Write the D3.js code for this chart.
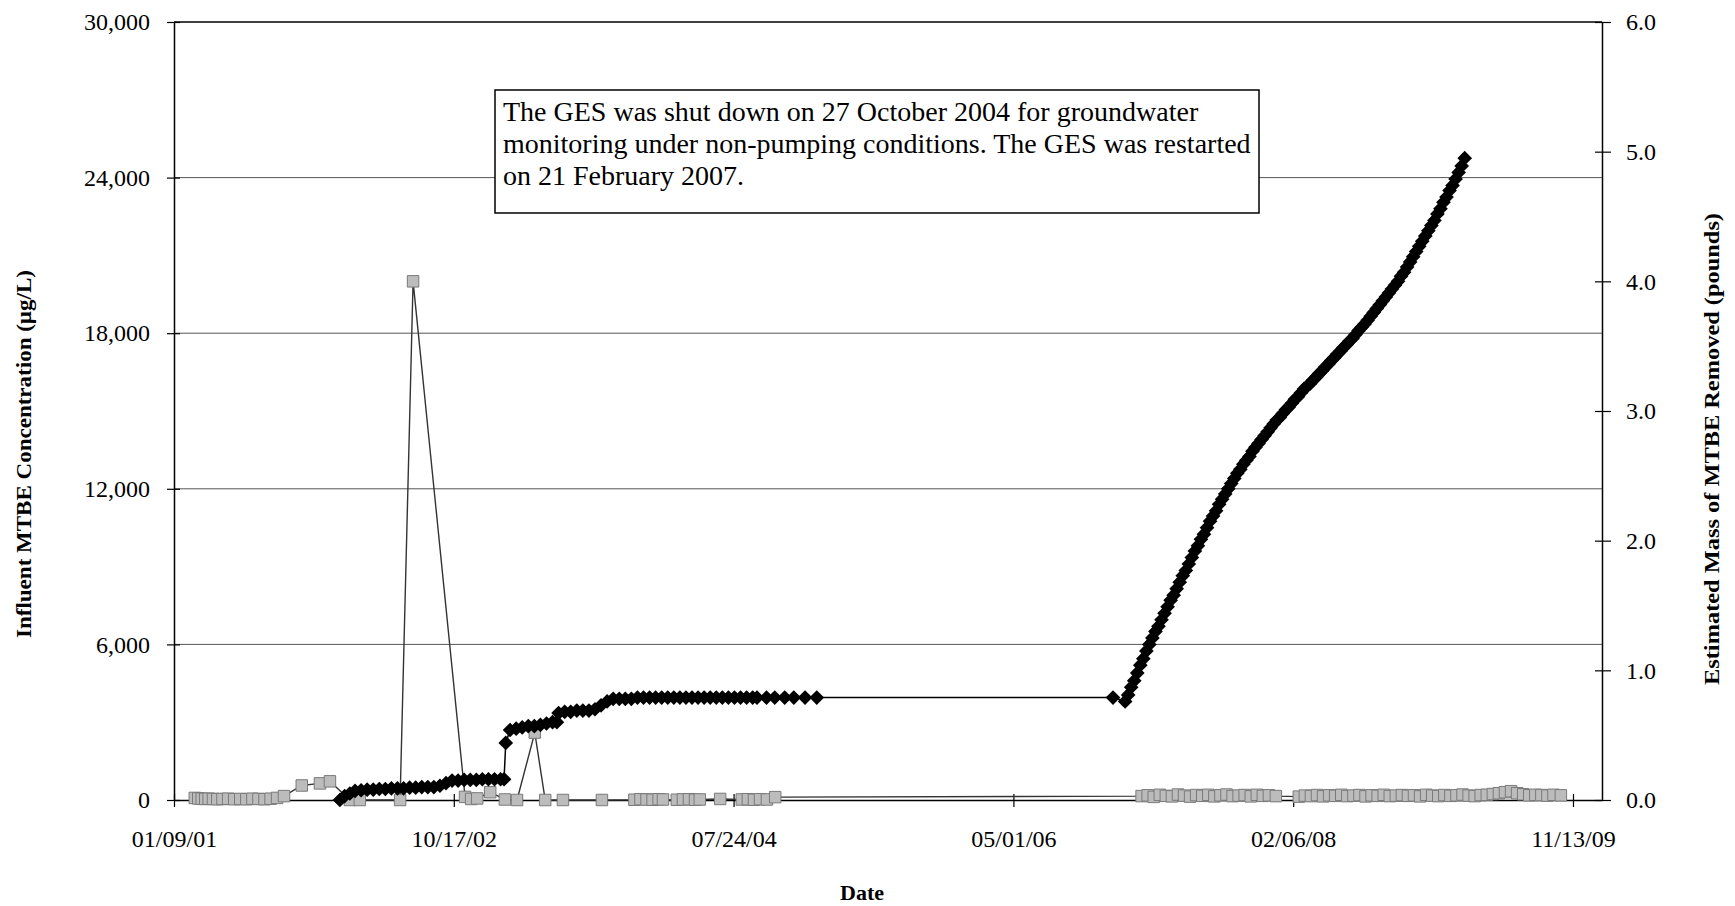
<!DOCTYPE html>
<html><head><meta charset="utf-8">
<script src="https://cdn.jsdelivr.net/npm/d3@7"></script>
<style>html,body{margin:0;padding:0;background:#fff;}svg{display:block;}</style>
</head><body>
<svg id="chart" width="1735" height="906"></svg>
<script>
// ---------------- DATA ----------------
const xTickDates = ["2001-01-09","2002-10-17","2004-07-24","2006-05-01","2008-02-06","2009-11-13"];
const leftTicks = [0, 6000, 12000, 18000, 24000, 30000];
const rightTicks = [0, 1, 2, 3, 4, 5, 6];

// Influent MTBE concentration (ug/L) - gray squares, left axis
const concDates = [
"2001-02-26","2001-03-06","2001-03-14","2001-03-22","2001-03-30","2001-04-09","2001-04-19","2001-05-01","2001-05-14","2001-05-28",
"2001-06-11","2001-06-25","2001-07-09","2001-07-23","2001-08-06","2001-08-20","2001-09-04","2001-09-20",
"2001-10-31","2001-12-12","2002-01-04",
"2002-02-19","2002-03-14","2002-06-15","2002-07-15",
"2002-11-12","2002-11-26","2002-12-10","2003-01-09","2003-02-12","2003-03-12","2003-04-22","2003-05-16","2003-06-26","2003-09-24",
"2003-12-08","2003-12-22","2004-01-05","2004-01-19","2004-02-02","2004-02-12",
"2004-03-15","2004-03-29","2004-04-12","2004-04-26","2004-05-07",
"2004-06-23",
"2004-08-12","2004-08-26","2004-09-09","2004-09-23","2004-10-09","2004-10-28",
"2007-02-21","2007-03-07","2007-03-21","2007-04-04","2007-04-18","2007-05-02","2007-05-16","2007-05-30","2007-06-13","2007-06-27",
"2007-07-11","2007-07-25","2007-08-08","2007-08-22","2007-09-05","2007-09-19","2007-10-03","2007-10-17","2007-10-31","2007-11-14",
"2007-11-28","2007-12-12","2007-12-28",
"2008-02-19","2008-03-04","2008-03-18","2008-04-01","2008-04-15","2008-04-29","2008-05-13","2008-05-27","2008-06-10","2008-06-24",
"2008-07-08","2008-07-22","2008-08-05","2008-08-19","2008-09-02","2008-09-16","2008-09-30","2008-10-14","2008-10-28","2008-11-11",
"2008-11-25","2008-12-09","2008-12-23","2009-01-06","2009-01-20","2009-02-03","2009-02-17","2009-03-03","2009-03-17","2009-03-31",
"2009-04-14","2009-04-28","2009-05-12","2009-05-26","2009-06-09","2009-06-23","2009-07-07","2009-07-21","2009-08-04","2009-08-18",
"2009-09-01","2009-09-15","2009-09-29","2009-10-16"
];
const concValues = [
80,60,50,40,50,40,30,40,50,30,
40,30,50,40,30,50,80,150,
560,640,720,
0,0,0,20000,
120,40,60,300,20,0,2600,0,0,0,
10,30,20,10,30,20,
10,20,30,10,20,
40,
20,30,10,30,20,110,
150,180,120,200,160,140,210,170,130,190,
160,200,140,180,210,150,170,190,140,200,
160,180,150,
130,170,150,190,140,180,160,200,150,170,
190,140,180,160,200,150,170,190,160,180,
140,200,170,150,190,160,180,210,170,150,
190,200,230,260,300,340,260,220,180,200,
190,170,200,180
];

// Estimated cumulative mass of MTBE removed (pounds) - black diamonds, right axis
const massDates = [
"2002-01-27","2002-02-07","2002-02-19","2002-03-03","2002-03-17","2002-03-31","2002-04-14","2002-04-28","2002-05-12","2002-05-26",
"2002-06-09","2002-06-23","2002-07-07","2002-07-21","2002-08-04","2002-08-18","2002-09-01","2002-09-15","2002-09-29","2002-10-13",
"2002-10-27","2002-11-10","2002-11-24","2002-12-08","2002-12-22","2003-01-05","2003-01-19","2003-02-02","2003-02-10","2003-02-14",
"2003-02-24","2003-03-10","2003-03-24","2003-04-07","2003-04-21","2003-05-05","2003-05-19","2003-06-02","2003-06-12","2003-06-16",
"2003-06-30","2003-07-14","2003-07-28","2003-08-11","2003-08-25","2003-09-08","2003-09-22","2003-10-06","2003-10-20","2003-11-03",
"2003-11-17","2003-12-01","2003-12-15","2003-12-29","2004-01-12","2004-01-26","2004-02-09","2004-02-23","2004-03-08","2004-03-22",
"2004-04-05","2004-04-19","2004-05-03","2004-05-17","2004-05-31","2004-06-14","2004-06-28","2004-07-12","2004-07-26","2004-08-09",
"2004-08-23","2004-09-06","2004-09-16","2004-10-08","2004-10-27","2004-11-19","2004-12-10","2005-01-05","2005-02-01",
"2006-12-17",
"2007-01-14","2007-01-21","2007-01-28","2007-02-04","2007-02-11","2007-02-18","2007-02-25","2007-03-04","2007-03-11","2007-03-18",
"2007-03-25","2007-04-01","2007-04-08","2007-04-15","2007-04-22","2007-04-29","2007-05-06","2007-05-13","2007-05-20","2007-05-27",
"2007-06-03","2007-06-10","2007-06-17","2007-06-24","2007-07-01","2007-07-08","2007-07-15","2007-07-22","2007-07-29","2007-08-05",
"2007-08-12","2007-08-19","2007-08-26","2007-09-02","2007-09-09","2007-09-16","2007-09-23","2007-09-30","2007-10-07","2007-10-14",
"2007-10-21","2007-10-28","2007-11-04","2007-11-11","2007-11-18","2007-11-25","2007-12-02","2007-12-09","2007-12-16","2007-12-23",
"2007-12-30","2008-01-06","2008-01-13","2008-01-20","2008-01-27","2008-02-03","2008-02-10","2008-02-17","2008-02-24","2008-03-02",
"2008-03-09","2008-03-16","2008-03-23","2008-03-30","2008-04-06","2008-04-13","2008-04-20","2008-04-27","2008-05-04","2008-05-11",
"2008-05-18","2008-05-25","2008-06-01","2008-06-08","2008-06-15","2008-06-22","2008-06-29","2008-07-06","2008-07-13","2008-07-20",
"2008-07-27","2008-08-03","2008-08-10","2008-08-17","2008-08-24","2008-08-31","2008-09-07","2008-09-14","2008-09-21","2008-09-28",
"2008-10-05","2008-10-12","2008-10-19","2008-10-26","2008-11-02","2008-11-09","2008-11-16","2008-11-23","2008-11-30","2008-12-07",
"2008-12-14","2008-12-21","2008-12-28","2009-01-04","2009-01-11","2009-01-18","2009-01-25","2009-02-01","2009-02-08","2009-02-15",
"2009-02-22","2009-03-01","2009-03-08"
];
const massValues = [
0.00,0.03,0.05,0.07,0.075,0.08,0.08,0.085,0.085,0.09,
0.09,0.09,0.095,0.095,0.10,0.10,0.10,0.11,0.13,0.15,
0.15,0.155,0.155,0.155,0.16,0.16,0.16,0.16,0.16,0.44,
0.54,0.55,0.56,0.57,0.57,0.58,0.59,0.60,0.60,0.67,
0.68,0.68,0.69,0.69,0.69,0.70,0.73,0.76,0.78,0.78,
0.78,0.78,0.79,0.79,0.79,0.79,0.79,0.79,0.79,0.79,
0.79,0.79,0.79,0.79,0.79,0.79,0.79,0.79,0.79,0.79,
0.79,0.79,0.79,0.79,0.79,0.79,0.79,0.79,0.79,
0.79,
0.76,0.81,0.87,0.92,0.98,1.04,1.09,1.15,1.20,1.25,
1.30,1.34,1.39,1.44,1.49,1.54,1.58,1.63,1.68,1.73,
1.77,1.82,
1.87,1.92,1.96,2.01,2.05,2.10,2.15,2.19,2.23,2.28,
2.32,2.36,2.40,2.44,2.48,2.52,2.55,2.59,2.62,2.65,
2.69,2.72,2.75,2.78,2.81,2.84,2.87,2.90,2.93,2.95,
2.98,3.01,3.03,3.06,3.09,3.11,3.14,3.17,3.19,3.21,
3.24,3.26,3.29,3.31,3.34,3.36,3.39,3.41,3.44,3.46,
3.49,3.51,3.54,3.56,3.59,3.62,3.645,3.67,3.70,3.73,
3.76,3.79,3.82,3.85,3.88,3.91,3.94,3.97,4.00,4.04,
4.07,4.11,4.15,4.19,4.23,4.27,4.31,4.35,4.39,4.43,
4.47,4.52,4.56,4.61,4.65,4.70,4.74,4.79,4.84,4.89,
4.95
];

const noteLines = [
"The GES was shut down on 27 October 2004 for groundwater",
"monitoring under non-pumping conditions. The GES was restarted",
"on 21 February 2007."
];

// ---------------- CHART ----------------
const parse = d3.utcParse("%Y-%m-%d");
const fmtDate = d3.utcFormat("%m/%d/%y");
const svg = d3.select("#chart");
const FONT = "'Liberation Serif','Times New Roman',serif";

const L = 174, R = 1602, T = 22, B = 800;
const x = d3.scaleUtc().domain([parse("2001-01-09"), parse("2010-01-19")]).range([L, R]);
const yL = d3.scaleLinear().domain([0, 30000]).range([B, T]);
const yR = d3.scaleLinear().domain([0, 6]).range([B, T]);

// gridlines
svg.append("g").selectAll("line").data(leftTicks.filter(d => d > 0)).join("line")
  .attr("x1", L).attr("x2", R).attr("y1", d => yL(d)).attr("y2", d => yL(d))
  .attr("stroke", d => d === 30000 ? "#000" : "#555").attr("stroke-width", d => d === 30000 ? 1.5 : 1);

// axes
const gL = svg.append("g").attr("transform", `translate(${L},0)`)
  .call(d3.axisLeft(yL).tickValues(leftTicks).tickFormat(d3.format(",")).tickSizeInner(7).tickSizeOuter(0).tickPadding(17));
const gR = svg.append("g").attr("transform", `translate(${R},0)`)
  .call(d3.axisRight(yR).tickValues(rightTicks).tickFormat(d3.format(".1f")).tickSizeInner(9).tickSizeOuter(0).tickPadding(15));
const gX = svg.append("g").attr("transform", `translate(0,${B})`)
  .call(d3.axisBottom(x).tickValues(xTickDates.map(parse)).tickFormat(fmtDate).tickSizeInner(7).tickSizeOuter(0).tickPadding(23));
gL.selectAll(".tick line").attr("x1", 6);
gR.selectAll(".tick line").attr("x1", -7);
gX.selectAll(".tick line").attr("y1", -6);
[gL, gR, gX].forEach(g => {
  g.selectAll(".domain").attr("stroke", "#000").attr("stroke-width", 1.5);
  g.selectAll(".tick line").attr("stroke", "#000").attr("stroke-width", 1.2);
  g.selectAll("text").attr("font-family", FONT).attr("font-size", 24).attr("fill", "#000");
});

// concentration series
const concData = concDates.map((d, i) => ({ d: parse(d), v: concValues[i] }));
svg.append("path").datum(concData)
  .attr("d", d3.line().x(p => x(p.d)).y(p => yL(p.v)))
  .attr("fill", "none").attr("stroke", "#333").attr("stroke-width", 1.4);
svg.append("g").selectAll("path").data(concData).join("path")
  .attr("transform", p => `translate(${x(p.d)},${yL(p.v)})`)
  .attr("d", d3.symbol(d3.symbolSquare, 132)())
  .attr("fill", "#bcbcbc").attr("stroke", "#7a7a7a").attr("stroke-width", 1);

// mass series
const massData = massDates.map((d, i) => ({ d: parse(d), v: massValues[i] }));
svg.append("path").datum(massData)
  .attr("d", d3.line().x(p => x(p.d)).y(p => yR(p.v)))
  .attr("fill", "none").attr("stroke", "#000").attr("stroke-width", 1.5);
svg.append("g").selectAll("path").data(massData).join("path")
  .attr("transform", p => `translate(${x(p.d)},${yR(p.v)}) rotate(45)`)
  .attr("d", d3.symbol(d3.symbolSquare, 108)())
  .attr("fill", "#000");

// annotation box
const note = svg.append("g");
note.append("rect").attr("x", 495).attr("y", 90).attr("width", 764).attr("height", 123)
  .attr("fill", "#fff").attr("stroke", "#000").attr("stroke-width", 1.5);
note.selectAll("text").data(noteLines).join("text")
  .attr("x", 503).attr("y", (d, i) => 121 + i * 32)
  .attr("font-family", FONT).attr("font-size", 28).attr("fill", "#000").text(d => d);

// axis titles
svg.append("text").attr("transform", "translate(31,454) rotate(-90)")
  .attr("text-anchor", "middle").attr("font-family", FONT).attr("font-weight", "bold")
  .attr("font-size", 22).attr("textLength", 368).attr("lengthAdjust", "spacingAndGlyphs")
  .text("Influent MTBE Concentration (µg/L)");
svg.append("text").attr("transform", "translate(1719,449) rotate(-90)")
  .attr("text-anchor", "middle").attr("font-family", FONT).attr("font-weight", "bold")
  .attr("font-size", 22).attr("textLength", 472).attr("lengthAdjust", "spacingAndGlyphs")
  .text("Estimated Mass of MTBE Removed (pounds)");
svg.append("text").attr("x", 862).attr("y", 900)
  .attr("text-anchor", "middle").attr("font-family", FONT).attr("font-weight", "bold")
  .attr("font-size", 22).text("Date");
</script>
</body></html>
